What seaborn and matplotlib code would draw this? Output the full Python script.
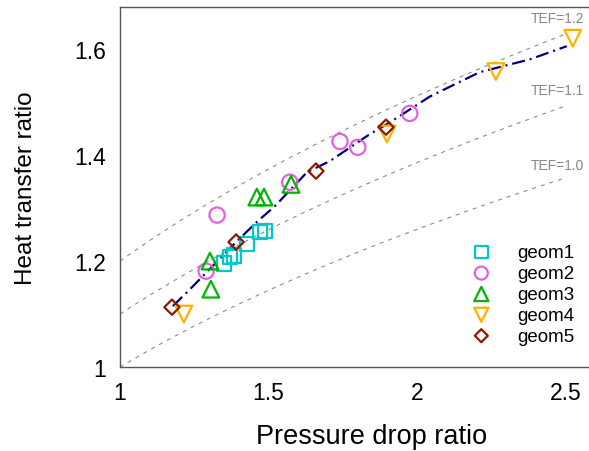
import numpy as np
import pandas as pd
import matplotlib
matplotlib.use("Agg")
import matplotlib.pyplot as plt
import seaborn as sns

sns.set_style("white")
plt.rcParams["font.family"] = ["Liberation Sans", "DejaVu Sans"]
plt.rcParams["text.color"] = "black"
plt.rcParams["axes.labelcolor"] = "black"

# ---- data ----
geom1_x = [1.350, 1.370, 1.384, 1.428, 1.471, 1.488]
geom1_y = [1.196, 1.208, 1.211, 1.232, 1.255, 1.257]
geom2_x = [1.290, 1.327, 1.572, 1.741, 1.801, 1.976]
geom2_y = [1.181, 1.287, 1.349, 1.426, 1.415, 1.479]
geom3_x = [1.303, 1.306, 1.461, 1.485, 1.576]
geom3_y = [1.200, 1.147, 1.321, 1.321, 1.345]
geom4_x = [1.215, 1.899, 2.266, 2.525]
geom4_y = [1.100, 1.440, 1.558, 1.621]
geom5_x = [1.175, 1.391, 1.660, 1.896]
geom5_y = [1.113, 1.236, 1.370, 1.453]

fit_x = [1.178, 1.236, 1.391, 1.461, 1.522, 1.630, 1.707, 1.842, 1.909, 2.044, 2.212, 2.380, 2.505]
fit_y = [1.115, 1.147, 1.236, 1.274, 1.304, 1.368, 1.389, 1.440, 1.462, 1.511, 1.557, 1.581, 1.606]

tef_levels = [1.0, 1.1, 1.2]
tef_labels = ["TEF=1.0", "TEF=1.1", "TEF=1.2"]
tef_label_y = [1.381, 1.523, 1.660]

series_names = ["geom1", "geom2", "geom3", "geom4", "geom5"]
series_x = [geom1_x, geom2_x, geom3_x, geom4_x, geom5_x]
series_y = [geom1_y, geom2_y, geom3_y, geom4_y, geom5_y]
colors = ["#00C8C8", "#E060E0", "#00B400", "#FFB000", "#8B1A00"]
markers = ["s", "o", "^", "v", "D"]
msizes = [10.5, 11.0, 12.0, 12.0, 7.8]

xticks = [1, 1.5, 2, 2.5]
xticklabels = ["1", "1.5", "2", "2.5"]
yticks = [1, 1.2, 1.4, 1.6]
yticklabels = ["1", "1.2", "1.4", "1.6"]

# ---- figure ----
fig = plt.figure(figsize=(5.89, 4.52), dpi=100)
ax = fig.add_axes([120 / 589, 84 / 452, 475 / 589, 360 / 452])

# TEF reference curves: Nu ratio = TEF * (f ratio)^(1/3)
tef_x = np.linspace(1.0, 2.5, 120)
for lvl, lab, ly in zip(tef_levels, tef_labels, tef_label_y):
    sns.lineplot(x=tef_x, y=lvl * tef_x ** (1 / 3), ax=ax, color="#8c8c8c",
                 lw=0.8, sort=False, zorder=1)
    ax.lines[-1].set_linestyle((0, (3.6, 4.5)))
    ax.text(2.385, ly, lab, color="#888888", fontsize=10, ha="left", va="center")

# fitted trend
sns.lineplot(x=fit_x, y=fit_y, ax=ax, color="#000080", lw=1.6, sort=False, zorder=2)
ax.lines[-1].set_linestyle((0, (5.9, 2.2, 0.9, 2.2)))

# data markers (hollow)
for name, xs, ys, c, m, ms in zip(series_names, series_x, series_y, colors, markers, msizes):
    df = pd.DataFrame({"x": xs, "y": ys})
    sns.scatterplot(data=df, x="x", y="y", ax=ax, marker=m, s=ms ** 2,
                    color=c, linewidth=1.6, zorder=3, label=name)
    coll = ax.collections[-1]
    coll.set_facecolors("none")
    coll.set_edgecolors(c)
    coll.set_linewidths(1.6)

ax.set_xlim(1, 2.6)
ax.set_ylim(1, 1.68)
ax.set_xticks(xticks)
ax.set_xticklabels(xticklabels)
ax.set_yticks(yticks)
ax.set_yticklabels(yticklabels)
ax.tick_params(axis="both", direction="in", length=7, width=1, color="#555555",
               labelsize=16.5, pad=10, labelcolor="black")
for sp in ax.spines.values():
    sp.set_color("#555555")
    sp.set_linewidth(1)

ax.set_xlabel("Pressure drop ratio", fontsize=19.5, color="black")
ax.set_ylabel("Heat transfer ratio", fontsize=17.5, color="black")
ax.xaxis.set_label_coords((372 - 120) / 475, (368 - 424) / 360)
ax.yaxis.set_label_coords((37 - 120) / 475, 0.5)

leg = ax.legend(loc="upper left", bbox_to_anchor=(471 / 589, 1 - 245 / 452),
                bbox_transform=fig.transFigure, frameon=False, fontsize=13.5,
                handlelength=1.1, handletextpad=1.35, labelspacing=0.2,
                borderpad=0, borderaxespad=0, markerscale=0.85)
for t in leg.get_texts():
    t.set_color("black")

fig.savefig("out.png", dpi=100)
